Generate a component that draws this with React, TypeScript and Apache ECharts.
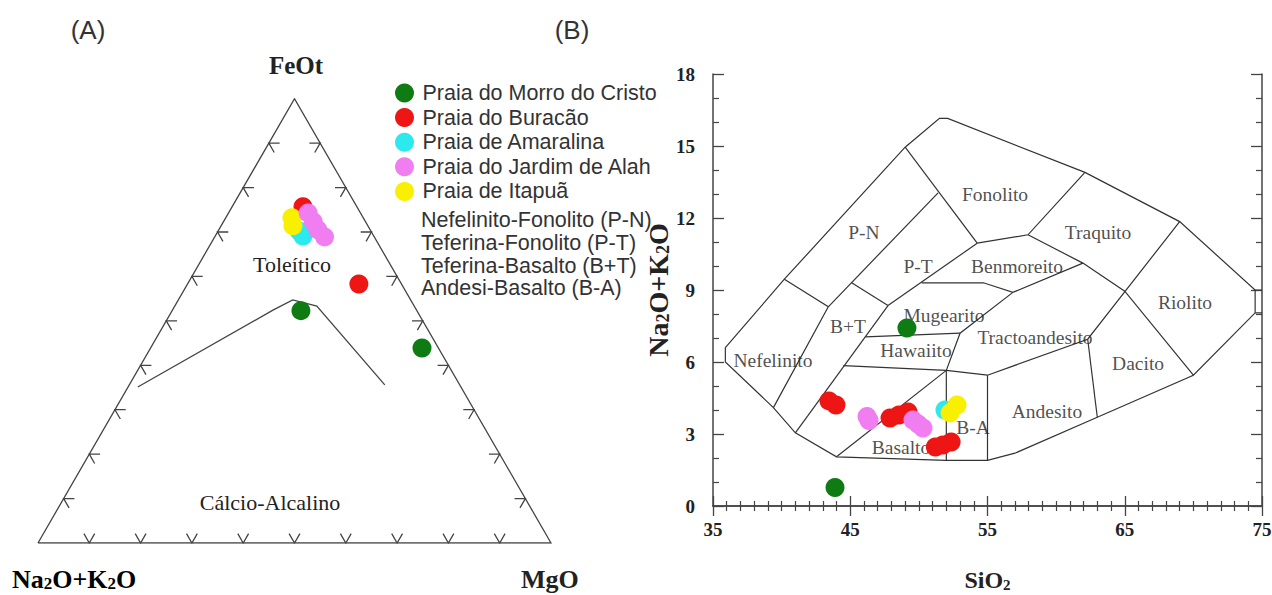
import React, { useEffect, useRef } from "react";
import * as echarts from "echarts";

// ---------- legend / series ----------
const SERIES_NAMES = [
  "Praia do Morro do Cristo",
  "Praia do Buracão",
  "Praia de Amaralina",
  "Praia do Jardim de Alah",
  "Praia de Itapuã",
];
const SERIES_COLORS = ["#0e7c12", "#ee1515", "#2ce9ee", "#f07ef0", "#f9f000"];
const DRAW_ORDER = [0, 1, 2, 4, 3];
const EXTRA_LEGEND_LINES = [
  "Nefelinito-Fonolito (P-N)",
  "Teferina-Fonolito (P-T)",
  "Teferina-Basalto (B+T)",
  "Andesi-Basalto (B-A)",
];

// ---------- (A) AFM ternary data: [Na2O+K2O, FeOt, MgO] % ----------
const AFM_GREEN = [[22.6, 52.3, 25.1], [3.2, 43.9, 52.9]];
const AFM_RED = [[10.5, 75.7, 13.8], [8.3, 58.3, 33.4]];
const AFM_CYAN = [[13.8, 69.1, 17.1], [14.0, 70.2, 15.8]];
const AFM_PINK = [[10.2, 74.3, 15.5], [10.2, 72.3, 17.5], [10.2, 70.5, 19.3], [9.7, 68.9, 21.4]];
const AFM_YELLOW = [[13.9, 73.2, 12.9], [14.6, 71.4, 14.0]];
const AFM_DATA = [AFM_GREEN, AFM_RED, AFM_CYAN, AFM_PINK, AFM_YELLOW];
const AFM_BOUNDARY = [[63.0, 35.1, 1.9], [28.0, 52.4, 19.6], [23.0, 54.7, 22.3], [19.0, 53.3, 27.7], [14.6, 35.6, 49.8]];
const AFM_TICKS = [10, 20, 30, 40, 50, 60, 70, 80, 90];

// ---------- (B) TAS data: [SiO2, Na2O+K2O] ----------
const TAS_GREEN = [[49.13, 7.42], [43.89, 0.77]];
const TAS_RED = [
  [43.45, 4.38], [43.96, 4.21], [47.9, 3.67], [48.55, 3.79], [49.21, 3.92],
  [51.2, 2.46], [51.75, 2.54], [52.35, 2.67],
];
const TAS_CYAN = [[51.9, 4.0]];
const TAS_PINK = [[46.22, 3.73], [46.37, 3.56], [49.57, 3.58], [49.94, 3.42], [50.3, 3.25]];
const TAS_YELLOW = [[52.27, 3.88], [52.78, 4.21]];
const TAS_DATA = [TAS_GREEN, TAS_RED, TAS_CYAN, TAS_PINK, TAS_YELLOW];

const TAS_OUTLINE = [
  [35.9, 6.6], [40.2, 9.45], [49.0, 14.95], [51.5, 16.15], [52.1, 16.15], [62.1, 13.9],
  [69.0, 11.85], [74.5, 9.0], [74.5, 8.05], [70.0, 5.45], [63.0, 3.7], [57.0, 2.2],
  [55.0, 1.9], [52.0, 1.9], [44.0, 2.05], [41.0, 3.05], [39.4, 4.1], [35.9, 6.0], [35.9, 6.6],
];
const TAS_DIVIDERS = [
  [[40.2, 9.45], [43.4, 8.3], [39.4, 4.1]],
  [[43.4, 8.3], [51.4, 13.05]],
  [[45.1, 9.3], [47.75, 8.35]],
  [[41.0, 3.05], [47.75, 8.35]],
  [[47.75, 8.35], [54.25, 10.95]],
  [[49.0, 14.95], [54.25, 10.95]],
  [[54.25, 10.95], [57.95, 11.3], [62.1, 13.9]],
  [[57.95, 11.3], [61.95, 10.12], [65.0, 8.95], [70.0, 5.45]],
  [[50.2, 9.3], [54.7, 9.3], [56.85, 8.9], [61.95, 10.12]],
  [[56.85, 8.9], [53.0, 7.2], [52.0, 5.65]],
  [[46.1, 7.05], [53.0, 7.2]],
  [[44.5, 5.85], [52.0, 5.65], [55.0, 5.45], [62.3, 6.95], [69.0, 11.85]],
  [[44.0, 2.05], [52.0, 5.65]],
  [[52.0, 5.65], [52.0, 1.9]],
  [[55.0, 5.45], [55.0, 1.9]],
  [[62.3, 6.95], [63.0, 3.7]],
  [[74.5, 9.0], [75.0, 9.0]],
  [[74.5, 8.05], [75.0, 8.05]],
];
const TAS_LABEL_NAMES = [
  "Fonolito", "Traquito", "Benmoreito", "P-N", "P-T", "Mugearito", "B+T", "Hawaiito",
  "Tractoandesito", "Nefelinito", "Andesito", "Dacito", "Riolito", "B-A", "Basalto",
];
const TAS_LABEL_AT = [
  [55.55, 12.96], [63.05, 11.38], [57.15, 9.96], [46.0, 11.38], [49.94, 9.96], [51.83, 7.92],
  [44.84, 7.46], [49.79, 6.5], [58.46, 7.04], [39.37, 6.08], [59.33, 3.92], [65.97, 5.92],
  [69.39, 8.46], [53.94, 3.29], [48.7, 2.42],
];

const SERIF = '"Liberation Serif", "Times New Roman", serif';
const SANS = '"Liberation Sans", Arial, sans-serif';
const SQ3 = Math.sqrt(3) / 2;

function tern(p: number[]) {
  const [a, f, m] = p;
  const s = a + f + m;
  const F = f / s;
  const M = m / s;
  return [M + F / 2, F * SQ3];
}

function buildOption() {
  const D = 2.1;
  const triLines: any[] = [
    { coords: [tern([100, 0, 0]), tern([0, 100, 0]), tern([0, 0, 100]), tern([100, 0, 0])] },
  ];
  AFM_TICKS.forEach((t) => {
    triLines.push({ coords: [tern([100 - t - D, D, t]), tern([100 - t, 0, t]), tern([100 - t, D, t - D])] });
    triLines.push({ coords: [tern([100 - t - D, t, D]), tern([100 - t, t, 0]), tern([100 - t, t - D, D])] });
    triLines.push({ coords: [tern([D, t, 100 - t - D]), tern([0, t, 100 - t]), tern([D, t - D, 100 - t])] });
  });
  triLines.push({ coords: AFM_BOUNDARY.map(tern) });

  const tasLines = [{ coords: TAS_OUTLINE }, ...TAS_DIVIDERS.map((c) => ({ coords: c }))];

  const series: any[] = [
    {
      type: "lines",
      coordinateSystem: "cartesian2d",
      xAxisIndex: 0,
      yAxisIndex: 0,
      polyline: true,
      silent: true,
      z: 1,
      lineStyle: { color: "#444", width: 1.3, opacity: 1 },
      data: triLines,
    },
    {
      type: "lines",
      coordinateSystem: "cartesian2d",
      xAxisIndex: 1,
      yAxisIndex: 1,
      polyline: true,
      silent: true,
      z: 1,
      lineStyle: { color: "#333", width: 1.2, opacity: 1 },
      data: tasLines,
    },
    {
      type: "scatter",
      xAxisIndex: 1,
      yAxisIndex: 1,
      silent: true,
      z: 1,
      symbolSize: 1,
      itemStyle: { color: "rgba(0,0,0,0)" },
      label: {
        show: true,
        position: "inside",
        formatter: "{b}",
        fontFamily: SERIF,
        fontSize: 19.5,
        color: "#222",
      },
      data: TAS_LABEL_NAMES.map((n, i) => ({ name: n, value: TAS_LABEL_AT[i] })),
    },
  ];

  DRAW_ORDER.forEach((i) => {
    series.push({
      type: "scatter",
      name: SERIES_NAMES[i],
      xAxisIndex: 0,
      yAxisIndex: 0,
      symbolSize: 19,
      z: 3,
      itemStyle: { color: SERIES_COLORS[i], opacity: 1 },
      data: AFM_DATA[i].map(tern),
    });
  });
  DRAW_ORDER.forEach((i) => {
    series.push({
      type: "scatter",
      name: SERIES_NAMES[i],
      xAxisIndex: 1,
      yAxisIndex: 1,
      symbolSize: 19,
      z: 3,
      itemStyle: { color: SERIES_COLORS[i], opacity: 1 },
      data: TAS_DATA[i],
    });
  });

  const frameLine = { show: true, lineStyle: { color: "#444", width: 1.5 } };
  const tickLabel = { fontFamily: SERIF, fontWeight: "bold", fontSize: 19, color: "#222" };
  const richB = (size: number) => ({ fontFamily: SERIF, fontWeight: "bold", fontSize: size, color: "#222", lineHeight: size });
  const richS = (size: number) => ({
    fontFamily: SERIF, fontWeight: "bold", fontSize: size, color: "#222", verticalAlign: "bottom", lineHeight: 2,
  });

  const txt = (text: string, x: number, y: number, font: any, align = "center") => ({
    type: "text",
    x,
    y,
    silent: true,
    style: {
      text,
      fill: font.color || "#222",
      fontFamily: font.family,
      fontSize: font.size,
      fontWeight: font.weight || "normal",
      align,
      verticalAlign: "middle",
      textAlign: align,
      textVerticalAlign: "middle",
    },
  });

  const graphic: any[] = [
    txt("(A)", 88, 30, { family: SANS, size: 26, color: "#333" }),
    txt("(B)", 572, 30, { family: SANS, size: 26, color: "#333" }),
    txt("FeOt", 296, 65, { family: SERIF, size: 25, weight: "bold" }),
    txt("Toleítico", 292, 264, { family: SERIF, size: 22 }),
    txt("Cálcio-Alcalino", 270, 502, { family: SERIF, size: 22 }),
    txt("MgO", 521, 579, { family: SERIF, size: 26, weight: "bold" }, "left"),
    {
      type: "text",
      x: 12,
      y: 579,
      silent: true,
      style: {
        text: "{b|Na}{s|2}{b|O+K}{s|2}{b|O}",
        align: "left",
        verticalAlign: "middle",
        textAlign: "left",
        textVerticalAlign: "middle",
        rich: { b: richB(26), s: richS(17) },
      },
    },
    ...EXTRA_LEGEND_LINES.map((t, i) =>
      txt(t, 421, 220 + i * 22.8, { family: SANS, size: 21.5, color: "#333" }, "left")
    ),
  ];

  return {
    animation: false,
    backgroundColor: "#fff",
    legend: {
      orient: "vertical",
      left: 390,
      top: 77,
      itemWidth: 26,
      itemHeight: 19,
      itemGap: 2.6,
      icon: "circle",
      selectedMode: false,
      data: SERIES_NAMES,
      textStyle: { fontFamily: SANS, fontSize: 21.5, color: "#333", lineHeight: 19 },
    },
    grid: [
      { left: 38, top: 98.7, width: 513, height: 444.3, outerBoundsMode: "none", containLabel: false },
      { left: 713, top: 74, width: 549, height: 432, outerBoundsMode: "none", containLabel: false },
    ],
    xAxis: [
      { type: "value", gridIndex: 0, min: 0, max: 1, show: false },
      {
        type: "value",
        gridIndex: 1,
        position: "bottom",
        min: 35,
        max: 75,
        interval: 10,
        axisLine: frameLine,
        axisTick: { show: true, inside: true, length: 10, lineStyle: { color: "#444", width: 1.3 } },
        minorTick: { show: true, splitNumber: 10, length: 5, lineStyle: { color: "#444", width: 1.2 } },
        splitLine: { show: false },
        minorSplitLine: { show: false },
        axisLabel: { ...tickLabel, margin: 14 },
        name: "{b|SiO}{s|2}",
        nameLocation: "middle",
        nameGap: 62,
        nameTextStyle: { rich: { b: richB(24), s: richS(15) } },
      },
      {
        type: "value",
        gridIndex: 1,
        position: "top",
        min: 35,
        max: 75,
        interval: 10,
        axisLine: frameLine,
        axisTick: { show: true, inside: true, length: 10, lineStyle: { color: "#444", width: 1.3 } },
        minorTick: { show: true, splitNumber: 10, length: 5, lineStyle: { color: "#444", width: 1.2 } },
        splitLine: { show: false },
        axisLabel: { show: false },
      },
    ],
    yAxis: [
      { type: "value", gridIndex: 0, min: 0, max: SQ3, show: false },
      {
        type: "value",
        gridIndex: 1,
        position: "left",
        min: 0,
        max: 18,
        interval: 3,
        axisLine: frameLine,
        axisTick: { show: true, inside: true, length: 11, lineStyle: { color: "#444", width: 1.3 } },
        minorTick: { show: true, splitNumber: 3, length: 6, lineStyle: { color: "#444", width: 1.2 } },
        splitLine: { show: false },
        axisLabel: { ...tickLabel, margin: 18 },
        name: "{b|Na}{s|2}{b|O+K}{s|2}{b|O}",
        nameLocation: "middle",
        nameRotate: 90,
        nameGap: 33,
        nameTextStyle: { rich: { b: richB(28), s: richS(18) } },
      },
      {
        type: "value",
        gridIndex: 1,
        position: "right",
        min: 0,
        max: 18,
        interval: 3,
        axisLine: frameLine,
        axisTick: { show: true, inside: true, length: 11, lineStyle: { color: "#444", width: 1.3 } },
        minorTick: { show: true, splitNumber: 3, length: 6, lineStyle: { color: "#444", width: 1.2 } },
        splitLine: { show: false },
        axisLabel: { show: false },
      },
    ],
    graphic,
    series,
  };
}

export default function App() {
  const ref = useRef<HTMLDivElement>(null);
  useEffect(() => {
    if (!ref.current) return;
    const chart = echarts.init(ref.current, null, { renderer: "svg" });
    chart.setOption(buildOption() as any);
    return () => chart.dispose();
  }, []);
  return (
    <div
      ref={ref}
      style={{ position: "fixed", left: 0, top: 0, width: 1272, height: 595, background: "#fff" }}
    />
  );
}
